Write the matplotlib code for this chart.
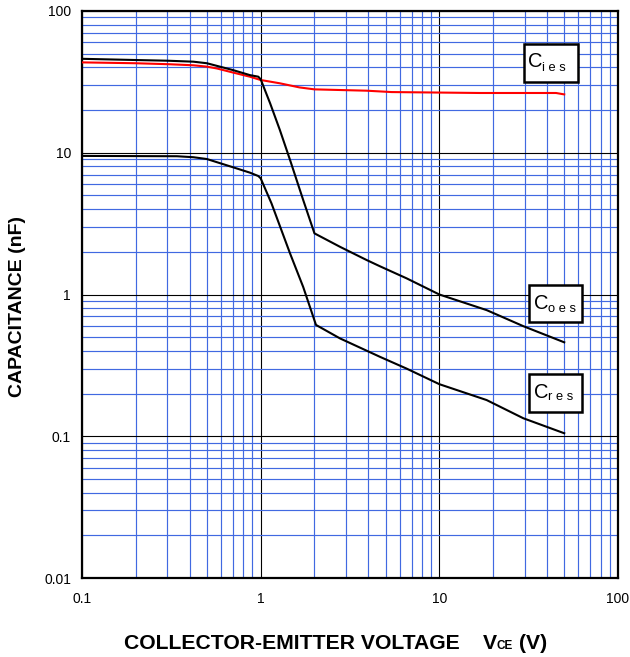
import matplotlib
matplotlib.use("Agg")
import matplotlib.pyplot as plt
from matplotlib.patches import Rectangle
from matplotlib.ticker import LogLocator, FixedLocator, FixedFormatter, NullFormatter

plt.rcParams['font.family'] = ['Liberation Sans', 'DejaVu Sans']

# Input capacitance Cies (red)
cies_v = [0.1, 0.2, 0.31, 0.42, 0.5, 0.57, 0.7, 0.87, 1.0, 1.28, 1.65, 2.0, 3.92, 5.4, 16.9, 45, 50]
cies_c = [43.4, 42.8, 42.1, 41.4, 40.5, 39.3, 36.8, 34.4, 32.6, 30.9, 28.9, 28.0, 27.4, 26.8, 26.4, 26.4, 25.8]

# Output capacitance Coes
coes_v = [0.1, 0.2, 0.3, 0.42, 0.5, 0.7, 0.87, 0.97, 1.0, 1.13, 1.28, 1.46, 1.73, 2.0,
          2.78, 3.92, 4.66, 6.56, 10, 18.4, 29.5, 50]
coes_c = [46.0, 45.1, 44.6, 43.9, 42.8, 38.3, 35.3, 34.4, 33.0, 22.3, 14.5, 8.9, 4.64, 2.70,
          2.17, 1.75, 1.58, 1.30, 1.0, 0.776, 0.598, 0.46]

# Reverse transfer capacitance Cres
cres_v = [0.1, 0.34, 0.42, 0.5, 0.7, 0.87, 0.97, 1.0, 1.15, 1.46, 1.73, 2.04,
          2.78, 4.66, 6.56, 10, 18.4, 29.5, 50]
cres_c = [9.5, 9.45, 9.3, 9.03, 7.9, 7.24, 6.85, 6.6, 4.39, 1.95, 1.13, 0.61,
          0.49, 0.363, 0.30, 0.233, 0.18, 0.134, 0.105]

x_ticks = [0.1, 1, 10, 100]
x_tick_labels = ["0.1", "1", "10", "100"]
y_ticks = [0.01, 0.1, 1, 10, 100]
y_tick_labels = ["0.01", "0.1", "1", "10", "100"]

W, H = 630, 657
fig = plt.figure(figsize=(W / 100, H / 100), dpi=100)
L, R, T, B = 82, 618, 11, 578
ax = fig.add_axes([L / W, 1 - B / H, (R - L) / W, (B - T) / H])
ax.set_xscale("log")
ax.set_yscale("log")
ax.set_xlim(0.1, 100)
ax.set_ylim(0.01, 100)

ax.xaxis.set_major_locator(FixedLocator(x_ticks))
ax.xaxis.set_major_formatter(FixedFormatter(x_tick_labels))
ax.yaxis.set_major_locator(FixedLocator(y_ticks))
ax.yaxis.set_major_formatter(FixedFormatter(y_tick_labels))
ax.xaxis.set_minor_locator(LogLocator(base=10, subs=range(2, 10)))
ax.yaxis.set_minor_locator(LogLocator(base=10, subs=range(2, 10)))
ax.xaxis.set_minor_formatter(NullFormatter())
ax.yaxis.set_minor_formatter(NullFormatter())

ax.grid(which="minor", color="#4169E1", lw=0.85, zorder=0)
ax.grid(which="major", color="black", lw=0.8, zorder=0.5)
ax.set_axisbelow(True)
ax.tick_params(which="both", length=0)
ax.tick_params(axis="x", pad=10, labelsize=10)
ax.tick_params(axis="y", pad=8, labelsize=10)
for s in ax.spines.values():
    s.set_linewidth(1.6)
    s.set_color("black")

ax.plot(cies_v, cies_c, color="#ff0000", lw=1.5, zorder=3)
ax.plot(coes_v, coes_c, color="black", lw=1.5, zorder=3)
ax.plot(cres_v, cres_c, color="black", lw=1.5, zorder=3)


def ax_frac(px, py):
    return (px - L) / (R - L), (B - py) / (B - T)


def label_box(x0, y0, x1, y1, cx, cy, sub, sx, sy):
    bx, by = ax_frac(x0, y1)
    bw = (x1 - x0) / (R - L)
    bh = (y1 - y0) / (B - T)
    ax.add_patch(Rectangle((bx, by), bw, bh, transform=ax.transAxes,
                           facecolor="white", edgecolor="black", lw=1.8, zorder=4))
    tx, ty = ax_frac(cx, cy)
    ax.text(tx, ty, "C", transform=ax.transAxes, fontsize=14.5,
            ha="left", va="baseline", zorder=5)
    ux, uy = ax_frac(sx, sy)
    ax.text(ux, uy, sub, transform=ax.transAxes, fontsize=9.3,
            ha="left", va="baseline", zorder=5)


label_box(524.3, 44, 578.3, 82.3, 528.3, 67.3, "i e s", 541.5, 70.7)
label_box(529.3, 285, 582.3, 322.3, 534.0, 309.3, "o e s", 547.5, 311.7)
label_box(529.3, 374, 582.3, 411.7, 534.0, 398.3, "r e s", 547.5, 400.0)

# Axis titles
fig.text(17.5 / W, 1 - 306.5 / H, "CAPACITANCE (nF)", rotation=90,
         ha="center", va="center", fontsize=14, fontweight="bold")
base = 1 - 649 / H
fig.text(123.5 / W, base, "COLLECTOR-EMITTER VOLTAGE", ha="left", va="baseline",
         fontsize=15.2, fontweight="bold")
fig.text(482.7 / W, base, "V", ha="left", va="baseline", fontsize=15.2, fontweight="bold")
fig.text(496.5 / W, base, "CE", ha="left", va="baseline", fontsize=8.5, fontweight="bold")
fig.text(518.5 / W, base, "(V)", ha="left", va="baseline", fontsize=15.2, fontweight="bold")

fig.savefig("out.png", dpi=100)
